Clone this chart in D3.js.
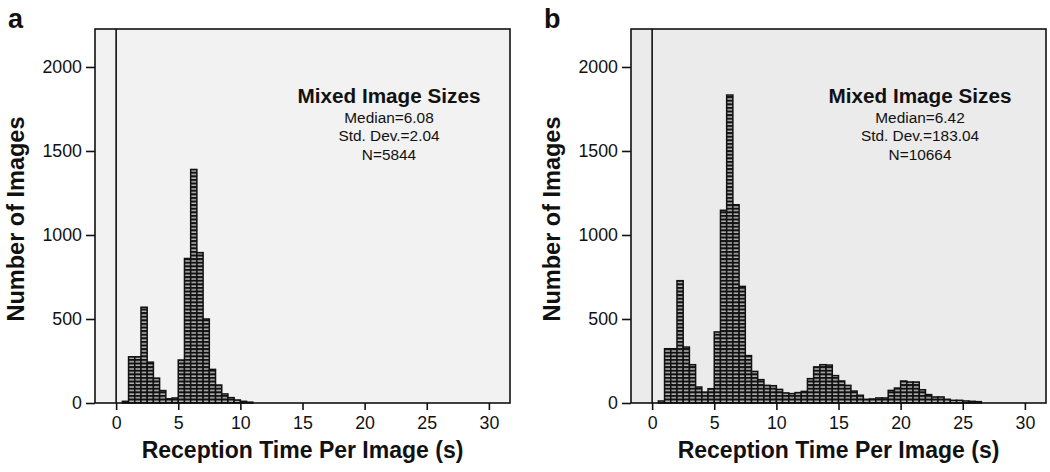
<!DOCTYPE html>
<html>
<head>
<meta charset="utf-8">
<script src="https://cdn.jsdelivr.net/npm/d3@7"></script>
<style>
  body { margin: 0; background: #fff; }
  svg { display: block; font-family: "Liberation Sans", Arial, Helvetica, sans-serif; }
</style>
</head>
<body>
<svg id="chart" width="1050" height="472"></svg>
<script>
// bin lower edges (s), bins are 0.5 s wide
const binWidth = 0.5;
const binsA = [0.5, 1.0, 1.5, 2.0, 2.5, 3.0, 3.5, 4.0, 4.5, 5.0, 5.5, 6.0, 6.5, 7.0, 7.5,
  8.0, 8.5, 9.0, 9.5, 10.0, 10.5];
const countsA = [10, 275, 275, 570, 243, 148, 74, 25, 30, 256, 860, 1390, 895, 500, 200,
  107, 54, 32, 18, 10, 5];

const binsB = [0.5, 1.0, 1.5, 2.0, 2.5, 3.0, 3.5, 4.0, 4.5, 5.0, 5.5, 6.0, 6.5, 7.0, 7.5,
  8.0, 8.5, 9.0, 9.5, 10.0, 10.5, 11.0, 11.5, 12.0, 12.5, 13.0, 13.5, 14.0, 14.5, 15.0,
  15.5, 16.0, 16.5, 17.0, 17.5, 18.0, 18.5, 19.0, 19.5, 20.0, 20.5, 21.0, 21.5, 22.0,
  22.5, 23.0, 23.5, 24.0, 24.5, 25.0, 25.5, 26.0];
const countsB = [12, 323, 323, 728, 333, 228, 95, 65, 85, 423, 1147, 1833, 1180, 694, 282,
  188, 139, 105, 103, 81, 60, 56, 62, 69, 145, 215, 228, 226, 163, 131,
  105, 71, 46, 22, 24, 30, 30, 75, 89, 131, 125, 125, 79, 50,
  36, 36, 22, 16, 16, 12, 10, 8];

const xTicks = [0, 5, 10, 15, 20, 25, 30];
const yTicks = [0, 500, 1000, 1500, 2000];
const statsTitle = "Mixed Image Sizes";
const statsA = ["Median=6.08", "Std. Dev.=2.04", "N=5844"];
const statsB = ["Median=6.42", "Std. Dev.=183.04", "N=10664"];

const svg = d3.select("#chart");

// brick-like fill used by the SPSS style bars
const defs = svg.append("defs");
const pat = defs.append("pattern")
  .attr("id", "brick")
  .attr("patternUnits", "userSpaceOnUse")
  .attr("width", 20).attr("height", 3.6)
  .attr("y", 403);
pat.append("rect").attr("width", 20).attr("height", 3.6).attr("fill", "#111");
pat.append("rect").attr("y", 1.2).attr("width", 20).attr("height", 1.5).attr("fill", "#b8b8b8");

function panel(opts) {
  const { left, right, top, bottom, bins, counts, stats, label, bg, statX } = opts;

  const x = d3.scaleLinear().domain([-1.7, 31.7]).range([left, right]);
  const y = d3.scaleLinear().domain([0, 2226]).range([bottom, top]);
  const g = svg.append("g");

  g.append("rect")
    .attr("x", left).attr("y", top)
    .attr("width", right - left).attr("height", bottom - top)
    .attr("fill", bg);

  // bars
  g.selectAll("rect.bar")
    .data(bins.map((b, i) => ({ x0: b, n: counts[i] })))
    .join("rect")
    .attr("class", "bar")
    .attr("x", d => x(d.x0))
    .attr("width", d => x(d.x0 + binWidth) - x(d.x0))
    .attr("y", d => y(d.n))
    .attr("height", d => y(0) - y(d.n))
    .attr("fill", "url(#brick)")
    .attr("stroke", "#111")
    .attr("stroke-width", 1.5);

  // reference line at 0
  g.append("line")
    .attr("x1", x(0)).attr("x2", x(0))
    .attr("y1", top).attr("y2", bottom)
    .attr("stroke", "#111").attr("stroke-width", 1.6);

  // axes
  const xAxis = g.append("g")
    .attr("transform", `translate(0,${bottom})`)
    .call(d3.axisBottom(x).tickValues(xTicks).tickSize(7).tickPadding(6).tickFormat(d3.format("d")));
  const yAxis = g.append("g")
    .attr("transform", `translate(${left},0)`)
    .call(d3.axisLeft(y).tickValues(yTicks).tickSize(9).tickPadding(4).tickFormat(d3.format("d")));
  [xAxis, yAxis].forEach(ax => {
    ax.select(".domain").remove();
    ax.selectAll(".tick line").attr("stroke", "#111").attr("stroke-width", 1.6);
    ax.selectAll(".tick text")
      .attr("fill", "#111")
      .attr("font-size", 17.8)
      .attr("font-family", "Liberation Sans, Arial, sans-serif");
  });

  // frame
  g.append("rect")
    .attr("x", left).attr("y", top)
    .attr("width", right - left).attr("height", bottom - top)
    .attr("fill", "none").attr("stroke", "#111").attr("stroke-width", 1.6);

  // stats box
  g.append("text")
    .attr("x", statX).attr("y", 103)
    .attr("text-anchor", "middle")
    .attr("font-weight", "bold").attr("font-size", 20.7)
    .attr("fill", "#111")
    .text(statsTitle);
  g.selectAll("text.stat")
    .data(stats)
    .join("text")
    .attr("class", "stat")
    .attr("x", statX)
    .attr("y", (d, i) => 123 + i * 18.4)
    .attr("text-anchor", "middle")
    .attr("font-size", 15.4)
    .attr("fill", "#111")
    .text(d => d);

  // axis titles
  g.append("text")
    .attr("x", (left + right) / 2).attr("y", 458)
    .attr("text-anchor", "middle")
    .attr("font-weight", "bold").attr("font-size", 23)
    .attr("fill", "#111")
    .text("Reception Time Per Image (s)");
  g.append("text")
    .attr("transform", `translate(${left - 71},219) rotate(-90)`)
    .attr("text-anchor", "middle")
    .attr("font-weight", "bold").attr("font-size", 23.5)
    .attr("fill", "#111")
    .text("Number of Images");

  // panel letter
  svg.append("text")
    .attr("x", left - 87).attr("y", 28)
    .attr("font-weight", "bold").attr("font-size", 27)
    .attr("fill", "#111")
    .text(label);
}

panel({ left: 95, right: 510, top: 29, bottom: 403, bins: binsA, counts: countsA,
  stats: statsA, label: "a", bg: "#f2f2f2", statX: 389 });
panel({ left: 631, right: 1046, top: 29, bottom: 403, bins: binsB, counts: countsB,
  stats: statsB, label: "b", bg: "#ebebeb", statX: 920 });
</script>
</body>
</html>
